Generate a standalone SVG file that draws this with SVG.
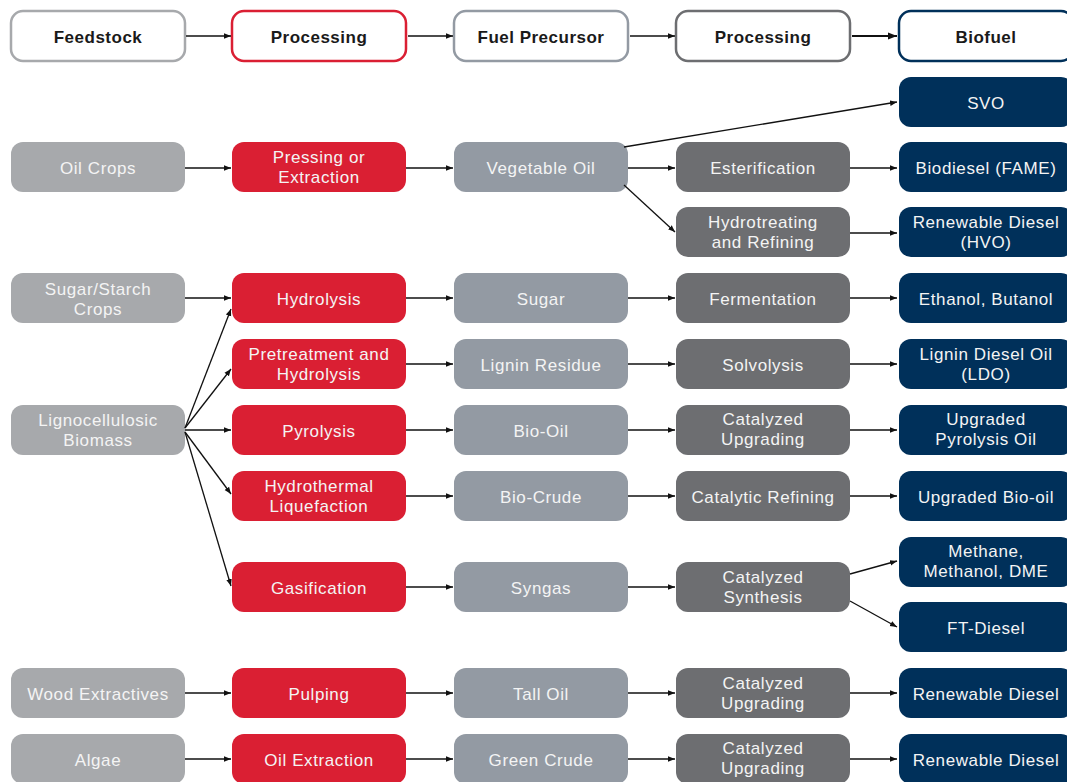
<svg xmlns="http://www.w3.org/2000/svg" width="1067" height="782" viewBox="0 0 1067 782">
<defs>
<marker id="ah" viewBox="0 0 10 10" refX="10" refY="5" markerWidth="7" markerHeight="7" markerUnits="userSpaceOnUse" orient="auto"><path d="M0,1 L10,5 L0,9 z" fill="#111"/></marker>
<marker id="ahb" viewBox="0 0 10 10" refX="10" refY="5" markerWidth="9" markerHeight="9" markerUnits="userSpaceOnUse" orient="auto"><path d="M0,1 L10,5 L0,9 z" fill="#111"/></marker>
<style>
text{font-family:"Liberation Sans",Arial,sans-serif;font-size:17px;letter-spacing:0.6px;text-anchor:middle;dominant-baseline:central;fill:#f4f4f4}
.h text{fill:#1a1a1a;font-weight:bold;letter-spacing:0.5px}
.h rect{fill:#fff;stroke-width:2.5}
.f rect{fill:#a7a9ac}
.p rect{fill:#da1f33}
.c rect{fill:#939aa3}
.q rect{fill:#6d6e71}
.b rect{fill:#00305a}
#connectors line{stroke:#111;stroke-width:1.3;marker-end:url(#ah)}
#connectors line.bold{stroke-width:2.2;marker-end:url(#ahb)}
</style>
</defs>
<rect width="1067" height="782" fill="#fff"/>
<!-- header -->
<g class="h">
<g id="h-feedstock"><rect x="11" y="11" width="174" height="50" rx="12" stroke="#a7a9ac"/><text x="98" y="37">Feedstock</text></g>
<g id="h-processing1"><rect x="232" y="11" width="174" height="50" rx="12" stroke="#da1f33"/><text x="319" y="37">Processing</text></g>
<g id="h-precursor"><rect x="454" y="11" width="174" height="50" rx="12" stroke="#939aa3"/><text x="541" y="37">Fuel Precursor</text></g>
<g id="h-processing2"><rect x="676" y="11" width="174" height="50" rx="12" stroke="#6d6e71"/><text x="763" y="37">Processing</text></g>
<g id="h-biofuel"><rect x="899" y="11" width="174" height="50" rx="12" stroke="#00305a"/><text x="986" y="37">Biofuel</text></g>
</g>
<!-- feedstock -->
<g class="f">
<g id="oil-crops"><rect x="11" y="142" width="174" height="50" rx="12"/><text x="98" y="168">Oil Crops</text></g>
<g id="sugar-crops"><rect x="11" y="273" width="174" height="50" rx="12"/><text x="98" y="289">Sugar/Starch</text><text x="98" y="309">Crops</text></g>
<g id="lignocellulosic"><rect x="11" y="405" width="174" height="50" rx="12"/><text x="98" y="420">Lignocellulosic</text><text x="98" y="440">Biomass</text></g>
<g id="wood-extractives"><rect x="11" y="668" width="174" height="50" rx="12"/><text x="98" y="694">Wood Extractives</text></g>
<g id="algae"><rect x="11" y="734" width="174" height="50" rx="12"/><text x="98" y="760">Algae</text></g>
</g>
<!-- processing 1 -->
<g class="p">
<g id="pressing"><rect x="232" y="142" width="174" height="50" rx="12"/><text x="319" y="157">Pressing or</text><text x="319" y="177">Extraction</text></g>
<g id="hydrolysis"><rect x="232" y="273" width="174" height="50" rx="12"/><text x="319" y="299">Hydrolysis</text></g>
<g id="pretreatment"><rect x="232" y="339" width="174" height="50" rx="12"/><text x="319" y="354">Pretreatment and</text><text x="319" y="374">Hydrolysis</text></g>
<g id="pyrolysis"><rect x="232" y="405" width="174" height="50" rx="12"/><text x="319" y="431">Pyrolysis</text></g>
<g id="htl"><rect x="232" y="471" width="174" height="50" rx="12"/><text x="319" y="486">Hydrothermal</text><text x="319" y="506">Liquefaction</text></g>
<g id="gasification"><rect x="232" y="562" width="174" height="50" rx="12"/><text x="319" y="588">Gasification</text></g>
<g id="pulping"><rect x="232" y="668" width="174" height="50" rx="12"/><text x="319" y="694">Pulping</text></g>
<g id="oil-extraction"><rect x="232" y="734" width="174" height="50" rx="12"/><text x="319" y="760">Oil Extraction</text></g>
</g>
<!-- precursors -->
<g class="c">
<g id="vegetable-oil"><rect x="454" y="142" width="174" height="50" rx="12"/><text x="541" y="168">Vegetable Oil</text></g>
<g id="sugar"><rect x="454" y="273" width="174" height="50" rx="12"/><text x="541" y="299">Sugar</text></g>
<g id="lignin-residue"><rect x="454" y="339" width="174" height="50" rx="12"/><text x="541" y="365">Lignin Residue</text></g>
<g id="bio-oil"><rect x="454" y="405" width="174" height="50" rx="12"/><text x="541" y="431">Bio-Oil</text></g>
<g id="bio-crude"><rect x="454" y="471" width="174" height="50" rx="12"/><text x="541" y="497">Bio-Crude</text></g>
<g id="syngas"><rect x="454" y="562" width="174" height="50" rx="12"/><text x="541" y="588">Syngas</text></g>
<g id="tall-oil"><rect x="454" y="668" width="174" height="50" rx="12"/><text x="541" y="694">Tall Oil</text></g>
<g id="green-crude"><rect x="454" y="734" width="174" height="50" rx="12"/><text x="541" y="760">Green Crude</text></g>
</g>
<!-- processing 2 -->
<g class="q">
<g id="esterification"><rect x="676" y="142" width="174" height="50" rx="12"/><text x="763" y="168">Esterification</text></g>
<g id="hydrotreating"><rect x="676" y="207" width="174" height="50" rx="12"/><text x="763" y="222">Hydrotreating</text><text x="763" y="242">and Refining</text></g>
<g id="fermentation"><rect x="676" y="273" width="174" height="50" rx="12"/><text x="763" y="299">Fermentation</text></g>
<g id="solvolysis"><rect x="676" y="339" width="174" height="50" rx="12"/><text x="763" y="365">Solvolysis</text></g>
<g id="cat-upgrading1"><rect x="676" y="405" width="174" height="50" rx="12"/><text x="763" y="419">Catalyzed</text><text x="763" y="439">Upgrading</text></g>
<g id="cat-refining"><rect x="676" y="471" width="174" height="50" rx="12"/><text x="763" y="497">Catalytic Refining</text></g>
<g id="cat-synthesis"><rect x="676" y="562" width="174" height="50" rx="12"/><text x="763" y="577">Catalyzed</text><text x="763" y="597">Synthesis</text></g>
<g id="cat-upgrading2"><rect x="676" y="668" width="174" height="50" rx="12"/><text x="763" y="683">Catalyzed</text><text x="763" y="703">Upgrading</text></g>
<g id="cat-upgrading3"><rect x="676" y="734" width="174" height="50" rx="12"/><text x="763" y="748">Catalyzed</text><text x="763" y="768">Upgrading</text></g>
</g>
<!-- biofuels -->
<g class="b">
<g id="svo"><rect x="899" y="77" width="174" height="50" rx="12"/><text x="986" y="103">SVO</text></g>
<g id="biodiesel"><rect x="899" y="142" width="174" height="50" rx="12"/><text x="986" y="168">Biodiesel (FAME)</text></g>
<g id="rd-hvo"><rect x="899" y="207" width="174" height="50" rx="12"/><text x="986" y="222">Renewable Diesel</text><text x="986" y="242">(HVO)</text></g>
<g id="ethanol"><rect x="899" y="273" width="174" height="50" rx="12"/><text x="986" y="299">Ethanol, Butanol</text></g>
<g id="ldo"><rect x="899" y="339" width="174" height="50" rx="12"/><text x="986" y="354">Lignin Diesel Oil</text><text x="986" y="374">(LDO)</text></g>
<g id="upo"><rect x="899" y="405" width="174" height="50" rx="12"/><text x="986" y="419">Upgraded</text><text x="986" y="439">Pyrolysis Oil</text></g>
<g id="ubo"><rect x="899" y="471" width="174" height="50" rx="12"/><text x="986" y="497">Upgraded Bio-oil</text></g>
<g id="methane"><rect x="899" y="537" width="174" height="50" rx="12"/><text x="986" y="551">Methane,</text><text x="986" y="571">Methanol, DME</text></g>
<g id="ft-diesel"><rect x="899" y="602" width="174" height="50" rx="12"/><text x="986" y="628">FT-Diesel</text></g>
<g id="rd1"><rect x="899" y="668" width="174" height="50" rx="12"/><text x="986" y="694">Renewable Diesel</text></g>
<g id="rd2"><rect x="899" y="734" width="174" height="50" rx="12"/><text x="986" y="760">Renewable Diesel</text></g>
</g>
<g id="connectors">
<line x1="186" y1="36" x2="231" y2="36"/>
<line x1="408" y1="36" x2="453" y2="36"/>
<line x1="630" y1="36" x2="675" y2="36"/>
<line class="bold" x1="852" y1="36" x2="897" y2="36"/>
<line x1="185" y1="168" x2="231" y2="168"/>
<line x1="406" y1="168" x2="453" y2="168"/>
<line x1="624" y1="147" x2="897" y2="102"/>
<line x1="628" y1="168" x2="675" y2="168"/>
<line x1="624" y1="185" x2="675" y2="232"/>
<line x1="850" y1="168" x2="897" y2="168"/>
<line x1="850" y1="233" x2="897" y2="233"/>
<line x1="185" y1="298" x2="231" y2="298"/>
<line x1="406" y1="298" x2="453" y2="298"/>
<line x1="628" y1="298" x2="675" y2="298"/>
<line x1="850" y1="298" x2="897" y2="298"/>
<line x1="185" y1="428" x2="231" y2="309"/>
<line x1="185" y1="428" x2="231" y2="369"/>
<line x1="185" y1="430" x2="231" y2="430"/>
<line x1="185" y1="432" x2="231" y2="494"/>
<line x1="185" y1="432" x2="231" y2="586"/>
<line x1="406" y1="364" x2="453" y2="364"/>
<line x1="628" y1="364" x2="675" y2="364"/>
<line x1="850" y1="364" x2="897" y2="364"/>
<line x1="406" y1="430" x2="453" y2="430"/>
<line x1="628" y1="430" x2="675" y2="430"/>
<line x1="850" y1="430" x2="897" y2="430"/>
<line x1="406" y1="496" x2="453" y2="496"/>
<line x1="628" y1="496" x2="675" y2="496"/>
<line x1="850" y1="496" x2="897" y2="496"/>
<line x1="406" y1="587" x2="453" y2="587"/>
<line x1="628" y1="587" x2="675" y2="587"/>
<line x1="850" y1="574" x2="897" y2="561"/>
<line x1="850" y1="601" x2="897" y2="627"/>
<line x1="185" y1="693" x2="231" y2="693"/>
<line x1="406" y1="693" x2="453" y2="693"/>
<line x1="628" y1="693" x2="675" y2="693"/>
<line x1="850" y1="693" x2="897" y2="693"/>
<line x1="185" y1="759" x2="231" y2="759"/>
<line x1="406" y1="759" x2="453" y2="759"/>
<line x1="628" y1="759" x2="675" y2="759"/>
<line x1="850" y1="759" x2="897" y2="759"/>
</g>
</svg>
